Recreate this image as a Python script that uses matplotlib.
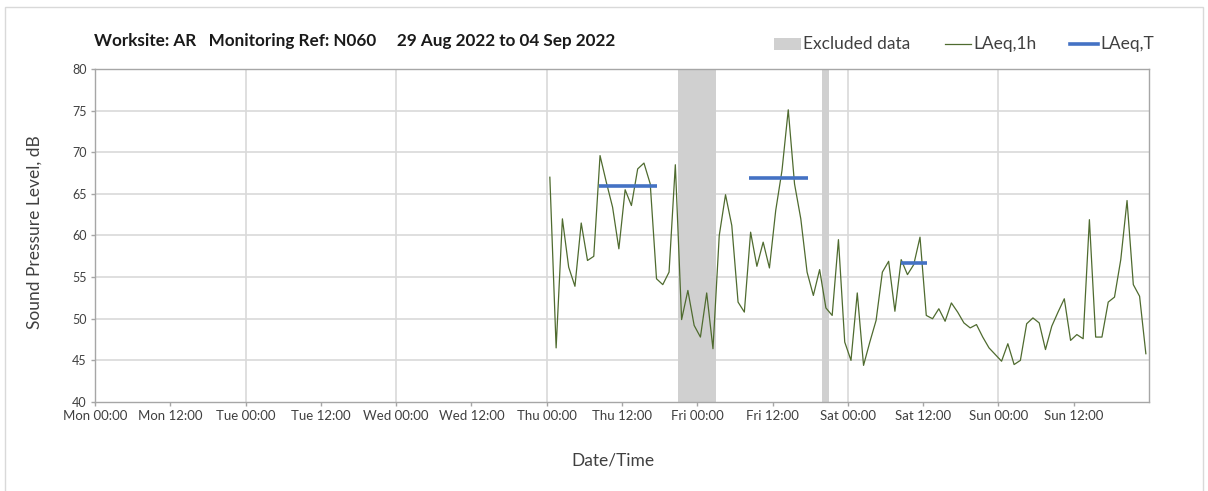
import matplotlib
matplotlib.use("Agg")
import matplotlib.pyplot as plt
from matplotlib.patches import Rectangle
from matplotlib.lines import Line2D

plt.rcParams['font.family'] = ['Lato', 'DejaVu Sans']

# ---- data ----
title = "Worksite: AR   Monitoring Ref: N060     29 Aug 2022 to 04 Sep 2022"
tick_hours = list(range(0, 168, 12))
tick_labels = ["Mon 00:00", "Mon 12:00", "Tue 00:00", "Tue 12:00", "Wed 00:00",
               "Wed 12:00", "Thu 00:00", "Thu 12:00", "Fri 00:00", "Fri 12:00",
               "Sat 00:00", "Sat 12:00", "Sun 00:00", "Sun 12:00"]
grid_hours = [24, 48, 72, 96, 120, 144]
y_ticks = [40, 45, 50, 55, 60, 65, 70, 75, 80]

hours = [72.5 + i for i in range(96)]
laeq_1h = [67.0, 46.5, 62.0, 56.2, 53.9, 61.5, 57.0, 57.5, 69.6, 66.4, 63.4, 58.4,
           65.5, 63.6, 68.0, 68.7, 66.2, 54.8, 54.1, 55.6, 68.5, 49.9, 53.4, 49.2,
           47.8, 53.1, 46.4, 60.0, 64.9, 61.2, 52.0, 50.8, 60.4, 56.3, 59.2, 56.1,
           63.0, 67.8, 75.1, 66.2, 62.0, 55.6, 52.8, 55.9, 51.3, 50.4, 59.5, 47.2,
           45.0, 53.1, 44.4, 47.2, 49.8, 55.6, 56.9, 50.9, 57.1, 55.3, 56.5, 59.8,
           50.4, 50.0, 51.2, 49.7, 51.9, 50.8, 49.5, 48.9, 49.3, 47.8, 46.5, 45.7,
           44.9, 47.0, 44.5, 45.0, 49.4, 50.1, 49.5, 46.3, 49.1, 50.8, 52.4, 47.4,
           48.1, 47.6, 61.9, 47.8, 47.8, 52.0, 52.6, 57.1, 64.2, 54.1, 52.7, 45.8]

laeq_t_start = [80.4, 104.2, 128.4]
laeq_t_end = [89.5, 113.6, 132.6]
laeq_t_value = [65.9, 66.9, 56.7]

excluded_start = [92.9, 115.9]
excluded_end = [99.0, 117.0]

legend_labels = ["Excluded data", "LAeq,1h", "LAeq,T"]

# ---- figure ----
W, H = 1208, 491
fig = plt.figure(figsize=(W / 100, H / 100), dpi=100)
fig.patch.set_facecolor("white")

def fx(px):
    return px / W

def fy(py):
    return 1 - py / H

# outer frame
fig.add_artist(Rectangle((fx(5), -0.05), fx(1203 - 5), fy(7) + 0.05,
                         transform=fig.transFigure, fill=False,
                         edgecolor="#d9d9d9", linewidth=1))

ax = fig.add_axes([fx(95), fy(402), fx(1149 - 95), (402 - 69) / H])

spine_c = "#a6a6a6"
grid_c = "#d9d9d9"
line_c = "#4f6b2f"
blue_c = "#4472c4"
excl_c = "#d0d0d0"
text_c = "#404040"

for s, e in zip(excluded_start, excluded_end):
    ax.axvspan(s, e, color=excl_c, linewidth=0, zorder=1)

for yv in y_ticks[1:-1]:
    ax.axhline(yv, color=grid_c, linewidth=1.2, zorder=0)
for gx in grid_hours:
    ax.axvline(gx, color=grid_c, linewidth=1.2, zorder=0)

ax.plot(hours, laeq_1h, color=line_c, linewidth=0.9, zorder=3)
for s, e, v in zip(laeq_t_start, laeq_t_end, laeq_t_value):
    ax.plot([s, e], [v, v], color=blue_c, linewidth=2.6, zorder=4,
            solid_capstyle="butt")

ax.set_xlim(0, 168)
ax.set_ylim(40, 80)
ax.set_xticks(tick_hours)
ax.set_xticklabels(tick_labels, fontsize=9.5, color=text_c)
ax.set_yticks(y_ticks)
ax.set_yticklabels([str(v) for v in y_ticks], fontsize=9, color=text_c)
ax.tick_params(axis="both", direction="out", length=3, width=1, color=spine_c, pad=3)
for sp in ax.spines.values():
    sp.set_color(spine_c)
    sp.set_linewidth(1)

fig.text(fx(35), fy(232), "Sound Pressure Level, dB", fontsize=12.5, color=text_c,
         rotation=90, ha="center", va="center")
fig.text(fx(613), fy(461), "Date/Time", fontsize=12.5, color=text_c,
         ha="center", va="center")

fig.text(fx(94), fy(41), title, fontsize=12.3, fontweight="bold",
         color="#1a1a1a", va="center", ha="left")

# legend (manually placed)
ly = fy(44)
fig.add_artist(Rectangle((fx(774), fy(49.5)), fx(801 - 774), (49.5 - 38.5) / H,
                         transform=fig.transFigure, facecolor=excl_c,
                         edgecolor="none"))
fig.text(fx(803), ly, legend_labels[0], fontsize=12.5, color=text_c,
         ha="left", va="center")
fig.add_artist(Line2D([fx(945), fx(971)], [ly, ly], transform=fig.transFigure,
                      color=line_c, linewidth=0.9))
fig.text(fx(973), ly, legend_labels[1], fontsize=12.5, color=text_c,
         ha="left", va="center")
fig.add_artist(Line2D([fx(1070), fx(1098)], [ly, ly], transform=fig.transFigure,
                      color=blue_c, linewidth=2.6))
fig.text(fx(1100), ly, legend_labels[2], fontsize=12.5, color=text_c,
         ha="left", va="center")

fig.savefig("out.png", dpi=100, facecolor="white")
